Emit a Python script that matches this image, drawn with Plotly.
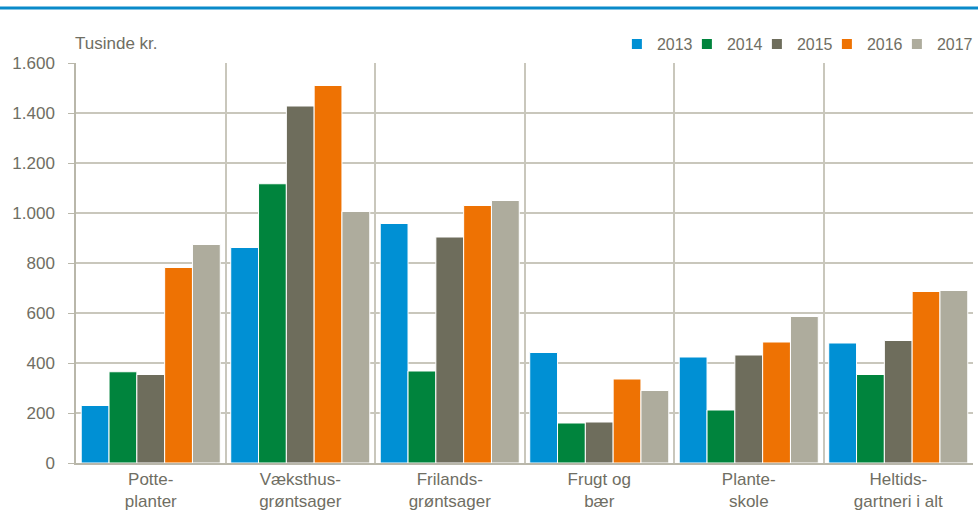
import plotly.graph_objects as go

categories = ["Potte-<br>planter", "Væksthus-<br>grøntsager", "Frilands-<br>grøntsager",
              "Frugt og<br>bær", "Plante-<br>skole", "Heltids-<br>gartneri i alt"]
years = ["2013", "2014", "2015", "2016", "2017"]
v2013 = [230, 862, 958, 442, 424, 480]
v2014 = [365, 1117, 368, 160, 212, 354]
v2015 = [354, 1428, 904, 164, 432, 490]
v2016 = [782, 1510, 1030, 336, 484, 686]
v2017 = [874, 1006, 1050, 290, 586, 690]
series = [v2013, v2014, v2015, v2016, v2017]
colors = ["#0090D4", "#00843D", "#6E6D5C", "#EE7203", "#AEAC9D"]
yticks = [0, 200, 400, 600, 800, 1000, 1200, 1400, 1600]

textc = "#6F6E63"
font = "Liberation Sans, Arial, sans-serif"

fig = go.Figure()
for y, vals, c in zip(years, series, colors):
    fig.add_trace(go.Bar(name=y, x=categories, y=vals, marker_color=c,
                         marker_line_color="white", marker_line_width=1))
# invisible spacer entry so the last legend label is not clipped
fig.add_trace(go.Scatter(x=[None], y=[None], mode="markers", name=" ",
                         marker=dict(opacity=0), hoverinfo="skip"))

fig.update_layout(
    width=978, height=522,
    barmode="group", bargap=0.07, bargroupgap=0,
    plot_bgcolor="white", paper_bgcolor="white",
    margin=dict(l=76, r=5, t=63, b=59, autoexpand=False),
    separators=",.",
    font=dict(family=font, size=17, color=textc),
    legend=dict(orientation="h", x=0.603, xanchor="left", y=1.005, yanchor="bottom",
                font=dict(size=16, color=textc), itemwidth=30, traceorder="normal",
                entrywidth=25, entrywidthmode="pixels",
                bgcolor="rgba(0,0,0,0)", itemsizing="constant"),
    showlegend=True,
)
fig.update_xaxes(tickson="boundaries", showgrid=True, gridcolor="#C9C7BC", gridwidth=1.5,
                 showline=True, linecolor="#B9B7AA", linewidth=1.5, ticks="",
                 tickfont=dict(size=17, color=textc), automargin=False)
fig.update_yaxes(range=[0, 1600], tickvals=yticks, tickformat=",d",
                 showgrid=True, gridcolor="#C9C7BC", gridwidth=1.5,
                 showline=True, linecolor="#B9B7AA", linewidth=1.5,
                 ticks="outside", ticklen=6, tickcolor="#B9B7AA",
                 ticklabelstandoff=10, automargin=False,
                 tickfont=dict(size=17, color=textc), zeroline=False)

fig.add_annotation(text="Tusinde kr.", xref="paper", yref="paper", x=0, y=1.0,
                   xanchor="left", yanchor="bottom", yshift=8, xshift=-3, showarrow=False,
                   font=dict(size=17, color=textc))
fig.add_shape(type="line", xref="paper", yref="paper", x0=-0.09, x1=1.01, y0=1.1375, y1=1.1375,
              line=dict(color="#0A8AC9", width=3))

fig.write_html("out.html", config={"displayModeBar": False},
               post_script="document.body.style.margin='0';")
